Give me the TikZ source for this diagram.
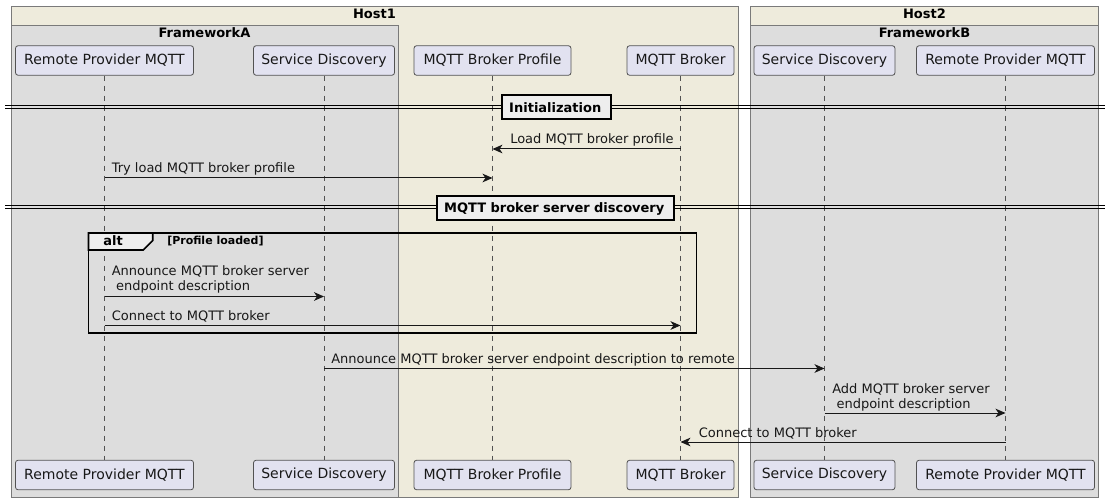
\documentclass[tikz,border=0pt]{standalone}
\usepackage{fontspec}
\setmainfont{DejaVu Sans}
\usetikzlibrary{arrows.meta}
\definecolor{hostbg}{HTML}{EEEBDC}
\definecolor{fwbg}{HTML}{DDDDDD}
\definecolor{partbg}{HTML}{E2E2F0}
\definecolor{ink}{HTML}{181818}
\definecolor{boxline}{HTML}{7A7A7A}
\definecolor{divbg}{HTML}{EEEEEE}
\tikzset{
  grp/.style={draw=boxline, line width=0.75pt},
  part/.style={draw=ink!75, fill=partbg, rounded corners=2pt, line width=0.6pt,
    minimum height=22.2pt, inner sep=0pt, font=\fontsize{10.5}{12}\selectfont, text=ink},
  life/.style={draw=ink!75, line width=0.5pt, dash pattern=on 3.75pt off 3.75pt},
  msg/.style={draw=ink, line width=0.75pt, -{Stealth[length=7.5pt,width=6.5pt,inset=2.2pt]}},
  lbl/.style={font=\fontsize{9.75}{11.25}\selectfont, text=ink, inner sep=0pt, anchor=base west, align=left},
  gtitle/.style={font=\bfseries\fontsize{9.75}{11}\selectfont, text=black, inner sep=0pt, anchor=base},
  divline/.style={draw=black, line width=0.75pt},
  divbox/.style={draw=black, line width=1.5pt, fill=divbg, font=\bfseries\fontsize{9.75}{11}\selectfont,
    inner xsep=5.8pt, inner ysep=0pt, minimum height=18pt, anchor=north west, align=left},
  frameline/.style={draw=black, line width=1.2pt},
}
\begin{document}
\begin{tikzpicture}[x=0.75pt,y=-0.75pt]
\useasboundingbox (0,0) rectangle (1110,502);
% group boxes
\draw[grp, fill=hostbg] (11.5,6.5) rectangle (738,497);
\draw[grp, fill=fwbg] (11.5,26) rectangle (398,497);
\draw[grp, fill=hostbg] (750.5,6.5) rectangle (1098,497);
\draw[grp, fill=fwbg] (750.5,26) rectangle (1098,497);
\node[gtitle] (t1) at (374.5,19) {Host1};
\node[gtitle] (t2) at (204.5,37.5) {FrameworkA};
\node[gtitle] (t3) at (924.5,19) {Host2};
\node[gtitle] (t4) at (924.5,37.5) {FrameworkB};
% participants top
\node[part, minimum width=133.5pt] (rpA) at (104.5,60.5) {Remote Provider MQTT};
\node[part, minimum width=105.75pt] (sdA) at (324,60.5) {Service Discovery};
\node[part, minimum width=117.75pt] (prof) at (492.5,60.5) {MQTT Broker Profile};
\node[part, minimum width=80.25pt] (brk) at (680.5,60.5) {MQTT Broker};
\node[part, minimum width=105.75pt] (sdB) at (824.5,60.5) {Service Discovery};
\node[part, minimum width=133.5pt] (rpB) at (1005.5,60.5) {Remote Provider MQTT};
% participants bottom
\node[part, minimum width=133.5pt] (rpA2) at (104.5,475) {Remote Provider MQTT};
\node[part, minimum width=105.75pt] (sdA2) at (324,475) {Service Discovery};
\node[part, minimum width=117.75pt] (prof2) at (492.5,475) {MQTT Broker Profile};
\node[part, minimum width=80.25pt] (brk2) at (680.5,475) {MQTT Broker};
\node[part, minimum width=105.75pt] (sdB2) at (824.5,475) {Service Discovery};
\node[part, minimum width=133.5pt] (rpB2) at (1005.5,475) {Remote Provider MQTT};
% lifelines
\draw[life] (rpA.south) -- (rpA2.north);
\draw[life] (sdA.south) -- (sdA2.north);
\draw[life] (prof.south) -- (prof2.north);
\draw[life] (brk.south) -- (brk2.north);
\draw[life] (sdB.south) -- (sdB2.north);
\draw[life] (rpB.south) -- (rpB2.north);
% divider 1
\coordinate (d1a) at (5,105.3);
\coordinate (d1b) at (1105,105.3);
\coordinate (d1c) at (5,108.7);
\coordinate (d1d) at (1105,108.7);
\draw[divline] (d1a) -- (d1b);
\draw[divline] (d1c) -- (d1d);
\node[divbox, text width=94pt*0.75] (div1) at (500.5,94.5) {Initialization};
% messages
\draw[msg] (brk.south |- 0,149) -- (prof.south |- 0,149);
\node[lbl] (l1) at (510,144) {Load MQTT broker profile};
\draw[msg] (rpA.south |- 0,178) -- (prof.south |- 0,178);
\node[lbl] (l2) at (111.5,173) {Try load MQTT broker profile};
% divider 2
\coordinate (d2a) at (5,205.3);
\coordinate (d2b) at (1105,205.3);
\coordinate (d2c) at (5,208.7);
\coordinate (d2d) at (1105,208.7);
\draw[divline] (d2a) -- (d2b);
\draw[divline] (d2c) -- (d2d);
\node[divbox, text width=222pt*0.75] (div2) at (435.5,195.5) {MQTT broker server discovery};
% alt frame
\coordinate (fa) at (88.5,233);
\coordinate (fb) at (696.5,333);
\draw[frameline] (fa) rectangle (fb);
\draw[frameline, fill=divbg] (88.5,233) -- (152.7,233) -- (152.7,240.5) -- (143.3,250) -- (88.5,250) -- cycle;
\node[gtitle, anchor=base west] (altl) at (103,246) {alt};
\node[font=\bfseries\fontsize{8.25}{10}\selectfont, inner sep=0pt, anchor=base west] (guard) at (167,244.5) {[Profile loaded]};
\draw[msg] (rpA.south |- 0,296.5) -- (sdA.south |- 0,296.5);
\node[lbl] (l3) at (111.5,291) {Announce MQTT broker server\\\hspace*{3.2pt}endpoint description};
\draw[msg] (rpA.south |- 0,325.5) -- (brk.south |- 0,325.5);
\node[lbl] (l4) at (111.5,320.5) {Connect to MQTT broker};
% after alt
\draw[msg] (sdA.south |- 0,368.5) -- (sdB.south |- 0,368.5);
\node[lbl] (l5) at (331,363.5) {Announce MQTT broker server endpoint description to remote};
\draw[msg] (sdB.south |- 0,413) -- (rpB.south |- 0,413);
\node[lbl] (l6) at (832,408) {Add MQTT broker server\\\hspace*{3.2pt}endpoint description};
\draw[msg] (rpB.south |- 0,442) -- (brk.south |- 0,442);
\node[lbl] (l7) at (698.5,437) {Connect to MQTT broker};
\end{tikzpicture}
\end{document}
